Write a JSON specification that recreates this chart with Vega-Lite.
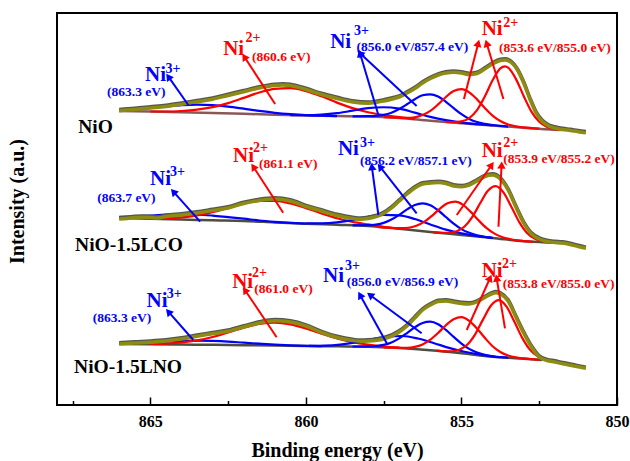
{
  "$schema": "https://vega.github.io/schema/vega-lite/v6.json",
  "width": 560,
  "height": 392,
  "autosize": "none",
  "padding": {"left": 57, "top": 13, "right": 13, "bottom": 56},
  "background": "white",
  "config": {
    "view": {"stroke": "black", "strokeWidth": 2},
    "axis": {"grid": false}
  },
  "datasets": {
    "curves": [
      {"s":"tbg","k":"bgA","E":866,"I":294.0},{"s":"tbg","k":"bgA","E":865,"I":293.4},{"s":"tbg","k":"bgA","E":864,"I":292.8},{"s":"tbg","k":"bgA","E":863,"I":292.1},{"s":"tbg","k":"bgA","E":862,"I":291.2},{"s":"tbg","k":"bgA","E":861,"I":290.3},{"s":"tbg","k":"bgA","E":860,"I":289.4},{"s":"tbg","k":"bgA","E":859,"I":288.9},{"s":"tbg","k":"bgA","E":858,"I":288.5},{"s":"tbg","k":"bgA","E":857,"I":287.0},{"s":"tbg","k":"bgA","E":856,"I":284.2},{"s":"tbg","k":"bgA","E":855,"I":281.8},{"s":"tbg","k":"bgA","E":854,"I":279.5},{"s":"tbg","k":"bgA","E":853,"I":277.3},{"s":"tbg","k":"bgA","E":852,"I":275.3},{"s":"tbg","k":"bgA","E":851.8,"I":275.0},
      {"s":"mbg","k":"bgB","E":866,"I":187},{"s":"mbg","k":"bgB","E":865,"I":186.2},{"s":"mbg","k":"bgB","E":864,"I":185.5},{"s":"mbg","k":"bgB","E":863,"I":184.7},{"s":"mbg","k":"bgB","E":862,"I":184.0},{"s":"mbg","k":"bgB","E":861,"I":182.6},{"s":"mbg","k":"bgB","E":860,"I":181.3},{"s":"mbg","k":"bgB","E":859,"I":180.2},{"s":"mbg","k":"bgB","E":858,"I":179.0},{"s":"mbg","k":"bgB","E":857,"I":176.2},{"s":"mbg","k":"bgB","E":856,"I":173.0},{"s":"mbg","k":"bgB","E":855,"I":170.0},{"s":"mbg","k":"bgB","E":854,"I":167.0},{"s":"mbg","k":"bgB","E":853,"I":163.7},{"s":"mbg","k":"bgB","E":852,"I":162.3},{"s":"mbg","k":"bgB","E":851.75,"I":162.0},
      {"s":"bbg","k":"bgB","E":866,"I":61},{"s":"bbg","k":"bgB","E":865,"I":60.75},{"s":"bbg","k":"bgB","E":864,"I":60.5},{"s":"bbg","k":"bgB","E":863,"I":60.15},{"s":"bbg","k":"bgB","E":862,"I":59.8},{"s":"bbg","k":"bgB","E":861,"I":59.4},{"s":"bbg","k":"bgB","E":860,"I":59.0},{"s":"bbg","k":"bgB","E":859,"I":58.65},{"s":"bbg","k":"bgB","E":858,"I":58.3},{"s":"bbg","k":"bgB","E":857,"I":57.0},{"s":"bbg","k":"bgB","E":856,"I":54.8},{"s":"bbg","k":"bgB","E":855,"I":51.8},{"s":"bbg","k":"bgB","E":854,"I":48.3},{"s":"bbg","k":"bgB","E":853,"I":46.3},{"s":"bbg","k":"bgB","E":852.4,"I":45.0},

      {"s":"tA","k":"Ni3+","E":866,"I":295.1},{"s":"tA","k":"Ni3+","E":865.5,"I":295.9},{"s":"tA","k":"Ni3+","E":865,"I":297.1},{"s":"tA","k":"Ni3+","E":864.5,"I":298.5},{"s":"tA","k":"Ni3+","E":864,"I":299.8},{"s":"tA","k":"Ni3+","E":863.5,"I":300.4},{"s":"tA","k":"Ni3+","E":863,"I":299.9},{"s":"tA","k":"Ni3+","E":862.5,"I":298.4},{"s":"tA","k":"Ni3+","E":862,"I":296.3},{"s":"tA","k":"Ni3+","E":861.5,"I":294.1},{"s":"tA","k":"Ni3+","E":861,"I":292.2},{"s":"tA","k":"Ni3+","E":860.5,"I":290.8},{"s":"tA","k":"Ni3+","E":860,"I":289.8},{"s":"tA","k":"Ni3+","E":859.5,"I":289.3},{"s":"tA","k":"Ni3+","E":859,"I":288.9},
      {"s":"tB","k":"Ni2+","E":865,"I":293.5},{"s":"tB","k":"Ni2+","E":864.5,"I":293.5},{"s":"tB","k":"Ni2+","E":864,"I":294.0},{"s":"tB","k":"Ni2+","E":863.5,"I":295.3},{"s":"tB","k":"Ni2+","E":863,"I":297.8},{"s":"tB","k":"Ni2+","E":862.5,"I":301.9},{"s":"tB","k":"Ni2+","E":862,"I":307.1},{"s":"tB","k":"Ni2+","E":861.5,"I":312.5},{"s":"tB","k":"Ni2+","E":861,"I":316.2},{"s":"tB","k":"Ni2+","E":860.5,"I":316.8},{"s":"tB","k":"Ni2+","E":860,"I":313.9},{"s":"tB","k":"Ni2+","E":859.5,"I":308.7},{"s":"tB","k":"Ni2+","E":859,"I":302.4},{"s":"tB","k":"Ni2+","E":858.5,"I":296.9},{"s":"tB","k":"Ni2+","E":858,"I":292.8},{"s":"tB","k":"Ni2+","E":857.5,"I":289.8},{"s":"tB","k":"Ni2+","E":857,"I":287.8},{"s":"tB","k":"Ni2+","E":856.5,"I":285.9},
      {"s":"tC","k":"Ni3+","E":860.5,"I":289.95},{"s":"tC","k":"Ni3+","E":860,"I":289.8},{"s":"tC","k":"Ni3+","E":859.5,"I":290.35},{"s":"tC","k":"Ni3+","E":859,"I":291.8},{"s":"tC","k":"Ni3+","E":858.5,"I":294.3},{"s":"tC","k":"Ni3+","E":858,"I":296.9},{"s":"tC","k":"Ni3+","E":857.5,"I":297.75},{"s":"tC","k":"Ni3+","E":857,"I":296.3},{"s":"tC","k":"Ni3+","E":856.5,"I":292.4},{"s":"tC","k":"Ni3+","E":856,"I":288.1},{"s":"tC","k":"Ni3+","E":855.5,"I":284.8},{"s":"tC","k":"Ni3+","E":855,"I":282.4},{"s":"tC","k":"Ni3+","E":854.5,"I":280.85},{"s":"tC","k":"Ni3+","E":854,"I":279.5},
      {"s":"tD","k":"Ni3+","E":858.5,"I":288.7},{"s":"tD","k":"Ni3+","E":858,"I":288.85},{"s":"tD","k":"Ni3+","E":857.75,"I":289.1},{"s":"tD","k":"Ni3+","E":857.5,"I":290.05},{"s":"tD","k":"Ni3+","E":857.25,"I":292.3},{"s":"tD","k":"Ni3+","E":857,"I":296.0},{"s":"tD","k":"Ni3+","E":856.75,"I":300.7},{"s":"tD","k":"Ni3+","E":856.5,"I":305.8},{"s":"tD","k":"Ni3+","E":856.25,"I":309.7},{"s":"tD","k":"Ni3+","E":856,"I":310.7},{"s":"tD","k":"Ni3+","E":855.75,"I":308.4},{"s":"tD","k":"Ni3+","E":855.5,"I":303.2},{"s":"tD","k":"Ni3+","E":855.25,"I":296.8},{"s":"tD","k":"Ni3+","E":855,"I":290.8},{"s":"tD","k":"Ni3+","E":854.75,"I":286.1},{"s":"tD","k":"Ni3+","E":854.5,"I":282.95},{"s":"tD","k":"Ni3+","E":854.25,"I":281.1},{"s":"tD","k":"Ni3+","E":854,"I":279.85},{"s":"tD","k":"Ni3+","E":853.5,"I":278.4},
      {"s":"tE","k":"Ni2+","E":857.5,"I":287.75},{"s":"tE","k":"Ni2+","E":857,"I":287.25},{"s":"tE","k":"Ni2+","E":856.75,"I":287.1},{"s":"tE","k":"Ni2+","E":856.5,"I":287.7},{"s":"tE","k":"Ni2+","E":856.25,"I":289.9},{"s":"tE","k":"Ni2+","E":856,"I":294.1},{"s":"tE","k":"Ni2+","E":855.75,"I":300.6},{"s":"tE","k":"Ni2+","E":855.5,"I":308.0},{"s":"tE","k":"Ni2+","E":855.25,"I":313.9},{"s":"tE","k":"Ni2+","E":855,"I":315.8},{"s":"tE","k":"Ni2+","E":854.75,"I":312.7},{"s":"tE","k":"Ni2+","E":854.5,"I":305.65},{"s":"tE","k":"Ni2+","E":854.25,"I":297.1},{"s":"tE","k":"Ni2+","E":854,"I":289.4},{"s":"tE","k":"Ni2+","E":853.75,"I":283.95},{"s":"tE","k":"Ni2+","E":853.5,"I":280.5},{"s":"tE","k":"Ni2+","E":853.25,"I":278.65},{"s":"tE","k":"Ni2+","E":853,"I":277.55},{"s":"tE","k":"Ni2+","E":852.5,"I":276.3},
      {"s":"tF","k":"Ni2+","E":855.5,"I":283.1},{"s":"tF","k":"Ni2+","E":855.25,"I":282.9},{"s":"tF","k":"Ni2+","E":855,"I":283.6},{"s":"tF","k":"Ni2+","E":854.75,"I":286.9},{"s":"tF","k":"Ni2+","E":854.5,"I":294.85},{"s":"tF","k":"Ni2+","E":854.25,"I":308.4},{"s":"tF","k":"Ni2+","E":854,"I":324.7},{"s":"tF","k":"Ni2+","E":853.75,"I":336.65},{"s":"tF","k":"Ni2+","E":853.6,"I":338.6},{"s":"tF","k":"Ni2+","E":853.5,"I":337.3},{"s":"tF","k":"Ni2+","E":853.25,"I":326.15},{"s":"tF","k":"Ni2+","E":853,"I":309.0},{"s":"tF","k":"Ni2+","E":852.75,"I":293.4},{"s":"tF","k":"Ni2+","E":852.5,"I":283.3},{"s":"tF","k":"Ni2+","E":852.25,"I":278.1},{"s":"tF","k":"Ni2+","E":852,"I":275.9},{"s":"tF","k":"Ni2+","E":851.8,"I":275.2},

      {"s":"mA","k":"Ni3+","E":866,"I":188.1},{"s":"mA","k":"Ni3+","E":865.5,"I":188.6},{"s":"mA","k":"Ni3+","E":865,"I":189.5},{"s":"mA","k":"Ni3+","E":864.5,"I":190.35},{"s":"mA","k":"Ni3+","E":864,"I":190.8},{"s":"mA","k":"Ni3+","E":863.5,"I":190.5},{"s":"mA","k":"Ni3+","E":863,"I":189.4},{"s":"mA","k":"Ni3+","E":862.5,"I":187.85},{"s":"mA","k":"Ni3+","E":862,"I":186.3},{"s":"mA","k":"Ni3+","E":861.5,"I":184.5},{"s":"mA","k":"Ni3+","E":861,"I":183.2},{"s":"mA","k":"Ni3+","E":860.5,"I":182.15},{"s":"mA","k":"Ni3+","E":860,"I":181.3},
      {"s":"mB","k":"Ni2+","E":865,"I":186.55},{"s":"mB","k":"Ni2+","E":864.5,"I":186.8},{"s":"mB","k":"Ni2+","E":864,"I":187.7},{"s":"mB","k":"Ni2+","E":863.5,"I":189.7},{"s":"mB","k":"Ni2+","E":863,"I":192.8},{"s":"mB","k":"Ni2+","E":862.5,"I":197.05},{"s":"mB","k":"Ni2+","E":862,"I":201.3},{"s":"mB","k":"Ni2+","E":861.5,"I":204.0},{"s":"mB","k":"Ni2+","E":861,"I":204.1},{"s":"mB","k":"Ni2+","E":860.5,"I":201.55},{"s":"mB","k":"Ni2+","E":860,"I":196.9},{"s":"mB","k":"Ni2+","E":859.5,"I":191.55},{"s":"mB","k":"Ni2+","E":859,"I":186.8},{"s":"mB","k":"Ni2+","E":858.5,"I":183.1},{"s":"mB","k":"Ni2+","E":858,"I":180.6},{"s":"mB","k":"Ni2+","E":857.5,"I":178.25},{"s":"mB","k":"Ni2+","E":857,"I":176.4},
      {"s":"mC","k":"Ni3+","E":860,"I":181.55},{"s":"mC","k":"Ni3+","E":859.5,"I":181.6},{"s":"mC","k":"Ni3+","E":859,"I":182.6},{"s":"mC","k":"Ni3+","E":858.5,"I":184.9},{"s":"mC","k":"Ni3+","E":858,"I":188.2},{"s":"mC","k":"Ni3+","E":857.5,"I":190.1},{"s":"mC","k":"Ni3+","E":857,"I":189.6},{"s":"mC","k":"Ni3+","E":856.5,"I":186.0},{"s":"mC","k":"Ni3+","E":856,"I":180.5},{"s":"mC","k":"Ni3+","E":855.5,"I":175.4},{"s":"mC","k":"Ni3+","E":855,"I":171.6},{"s":"mC","k":"Ni3+","E":854.5,"I":169.0},{"s":"mC","k":"Ni3+","E":854,"I":167.1},
      {"s":"mD","k":"Ni3+","E":858.5,"I":179.7},{"s":"mD","k":"Ni3+","E":858,"I":179.8},{"s":"mD","k":"Ni3+","E":857.75,"I":180.4},{"s":"mD","k":"Ni3+","E":857.5,"I":182.1},{"s":"mD","k":"Ni3+","E":857.25,"I":185.4},{"s":"mD","k":"Ni3+","E":857,"I":190.2},{"s":"mD","k":"Ni3+","E":856.75,"I":195.6},{"s":"mD","k":"Ni3+","E":856.5,"I":200.0},{"s":"mD","k":"Ni3+","E":856.25,"I":201.7},{"s":"mD","k":"Ni3+","E":856,"I":199.8},{"s":"mD","k":"Ni3+","E":855.75,"I":194.75},{"s":"mD","k":"Ni3+","E":855.5,"I":188.0},{"s":"mD","k":"Ni3+","E":855.25,"I":181.35},{"s":"mD","k":"Ni3+","E":855,"I":175.9},{"s":"mD","k":"Ni3+","E":854.75,"I":172.15},{"s":"mD","k":"Ni3+","E":854.5,"I":169.7},{"s":"mD","k":"Ni3+","E":854.25,"I":168.2},{"s":"mD","k":"Ni3+","E":854,"I":167.0},
      {"s":"mE","k":"Ni2+","E":857.7,"I":178.2},{"s":"mE","k":"Ni2+","E":857.2,"I":177.0},{"s":"mE","k":"Ni2+","E":856.95,"I":176.8},{"s":"mE","k":"Ni2+","E":856.7,"I":177.24},{"s":"mE","k":"Ni2+","E":856.45,"I":179.24},{"s":"mE","k":"Ni2+","E":856.2,"I":183.14},{"s":"mE","k":"Ni2+","E":855.95,"I":189.2},{"s":"mE","k":"Ni2+","E":855.7,"I":196.1},{"s":"mE","k":"Ni2+","E":855.45,"I":201.65},{"s":"mE","k":"Ni2+","E":855.2,"I":203.3},{"s":"mE","k":"Ni2+","E":854.95,"I":200.15},{"s":"mE","k":"Ni2+","E":854.7,"I":193.1},{"s":"mE","k":"Ni2+","E":854.45,"I":184.7},{"s":"mE","k":"Ni2+","E":854.2,"I":177.1},{"s":"mE","k":"Ni2+","E":853.95,"I":171.64},{"s":"mE","k":"Ni2+","E":853.7,"I":168.0},{"s":"mE","k":"Ni2+","E":853.45,"I":165.95},{"s":"mE","k":"Ni2+","E":853.2,"I":164.6},{"s":"mE","k":"Ni2+","E":852.7,"I":163.2},
      {"s":"mF","k":"Ni2+","E":855.9,"I":172.7},{"s":"mF","k":"Ni2+","E":855.65,"I":172.2},{"s":"mF","k":"Ni2+","E":855.4,"I":172.2},{"s":"mF","k":"Ni2+","E":855.15,"I":173.75},{"s":"mF","k":"Ni2+","E":854.9,"I":178.5},{"s":"mF","k":"Ni2+","E":854.65,"I":188.15},{"s":"mF","k":"Ni2+","E":854.4,"I":201.7},{"s":"mF","k":"Ni2+","E":854.15,"I":214.25},{"s":"mF","k":"Ni2+","E":853.9,"I":218.97},{"s":"mF","k":"Ni2+","E":853.65,"I":212.65},{"s":"mF","k":"Ni2+","E":853.4,"I":198.5},{"s":"mF","k":"Ni2+","E":853.15,"I":183.4},{"s":"mF","k":"Ni2+","E":852.9,"I":172.36},{"s":"mF","k":"Ni2+","E":852.65,"I":166.5},{"s":"mF","k":"Ni2+","E":852.4,"I":163.8},{"s":"mF","k":"Ni2+","E":852.15,"I":162.7},{"s":"mF","k":"Ni2+","E":851.9,"I":162.2},

      {"s":"bA","k":"Ni3+","E":866,"I":61.6},{"s":"bA","k":"Ni3+","E":865.5,"I":62.0},{"s":"bA","k":"Ni3+","E":865,"I":62.55},{"s":"bA","k":"Ni3+","E":864.5,"I":63.3},{"s":"bA","k":"Ni3+","E":864,"I":64.0},{"s":"bA","k":"Ni3+","E":863.5,"I":64.3},{"s":"bA","k":"Ni3+","E":863,"I":64.05},{"s":"bA","k":"Ni3+","E":862.5,"I":63.4},{"s":"bA","k":"Ni3+","E":862,"I":62.3},{"s":"bA","k":"Ni3+","E":861.5,"I":61.3},{"s":"bA","k":"Ni3+","E":861,"I":60.4},{"s":"bA","k":"Ni3+","E":860.5,"I":59.7},{"s":"bA","k":"Ni3+","E":860,"I":59.2},{"s":"bA","k":"Ni3+","E":859.5,"I":58.8},
      {"s":"bB","k":"Ni2+","E":865,"I":61.05},{"s":"bB","k":"Ni2+","E":864.5,"I":61.44},{"s":"bB","k":"Ni2+","E":864,"I":62.5},{"s":"bB","k":"Ni2+","E":863.5,"I":64.55},{"s":"bB","k":"Ni2+","E":863,"I":67.95},{"s":"bB","k":"Ni2+","E":862.5,"I":72.5},{"s":"bB","k":"Ni2+","E":862,"I":77.35},{"s":"bB","k":"Ni2+","E":861.5,"I":81.1},{"s":"bB","k":"Ni2+","E":861,"I":82.4},{"s":"bB","k":"Ni2+","E":860.5,"I":80.7},{"s":"bB","k":"Ni2+","E":860,"I":76.55},{"s":"bB","k":"Ni2+","E":859.5,"I":71.3},{"s":"bB","k":"Ni2+","E":859,"I":66.45},{"s":"bB","k":"Ni2+","E":858.5,"I":62.75},{"s":"bB","k":"Ni2+","E":858,"I":60.3},{"s":"bB","k":"Ni2+","E":857.5,"I":58.5},{"s":"bB","k":"Ni2+","E":857,"I":57.3},
      {"s":"bC","k":"Ni3+","E":859.9,"I":59.12},{"s":"bC","k":"Ni3+","E":859.4,"I":59.37},{"s":"bC","k":"Ni3+","E":858.9,"I":60.42},{"s":"bC","k":"Ni3+","E":858.4,"I":62.56},{"s":"bC","k":"Ni3+","E":857.9,"I":65.72},{"s":"bC","k":"Ni3+","E":857.4,"I":68.32},{"s":"bC","k":"Ni3+","E":856.9,"I":68.98},{"s":"bC","k":"Ni3+","E":856.4,"I":66.48},{"s":"bC","k":"Ni3+","E":855.9,"I":62.05},{"s":"bC","k":"Ni3+","E":855.4,"I":57.1},{"s":"bC","k":"Ni3+","E":854.9,"I":53.25},{"s":"bC","k":"Ni3+","E":854.4,"I":50.3},{"s":"bC","k":"Ni3+","E":853.9,"I":48.26},
      {"s":"bD","k":"Ni3+","E":858.5,"I":58.5},{"s":"bD","k":"Ni3+","E":858,"I":58.67},{"s":"bD","k":"Ni3+","E":857.75,"I":59.02},{"s":"bD","k":"Ni3+","E":857.5,"I":60.15},{"s":"bD","k":"Ni3+","E":857.25,"I":62.6},{"s":"bD","k":"Ni3+","E":857,"I":66.66},{"s":"bD","k":"Ni3+","E":856.75,"I":71.95},{"s":"bD","k":"Ni3+","E":856.5,"I":77.65},{"s":"bD","k":"Ni3+","E":856.25,"I":82.0},{"s":"bD","k":"Ni3+","E":856,"I":83.3},{"s":"bD","k":"Ni3+","E":855.75,"I":80.7},{"s":"bD","k":"Ni3+","E":855.5,"I":75.05},{"s":"bD","k":"Ni3+","E":855.25,"I":68.05},{"s":"bD","k":"Ni3+","E":855,"I":61.46},{"s":"bD","k":"Ni3+","E":854.75,"I":56.17},{"s":"bD","k":"Ni3+","E":854.5,"I":52.55},{"s":"bD","k":"Ni3+","E":854.25,"I":50.24},{"s":"bD","k":"Ni3+","E":854,"I":48.67},{"s":"bD","k":"Ni3+","E":853.5,"I":47.3},
      {"s":"bE","k":"Ni2+","E":857.5,"I":57.65},{"s":"bE","k":"Ni2+","E":857,"I":57.26},{"s":"bE","k":"Ni2+","E":856.75,"I":57.27},{"s":"bE","k":"Ni2+","E":856.5,"I":58.15},{"s":"bE","k":"Ni2+","E":856.25,"I":60.61},{"s":"bE","k":"Ni2+","E":856,"I":65.3},{"s":"bE","k":"Ni2+","E":855.75,"I":72.05},{"s":"bE","k":"Ni2+","E":855.5,"I":79.8},{"s":"bE","k":"Ni2+","E":855.25,"I":85.85},{"s":"bE","k":"Ni2+","E":855,"I":87.8},{"s":"bE","k":"Ni2+","E":854.75,"I":84.2},{"s":"bE","k":"Ni2+","E":854.5,"I":76.55},{"s":"bE","k":"Ni2+","E":854.25,"I":67.2},{"s":"bE","k":"Ni2+","E":854,"I":58.8},{"s":"bE","k":"Ni2+","E":853.75,"I":53.06},{"s":"bE","k":"Ni2+","E":853.5,"I":49.55},{"s":"bE","k":"Ni2+","E":853.25,"I":47.62},{"s":"bE","k":"Ni2+","E":853,"I":46.56},{"s":"bE","k":"Ni2+","E":852.5,"I":45.1},
      {"s":"bF","k":"Ni2+","E":855.8,"I":54.35},{"s":"bF","k":"Ni2+","E":855.55,"I":53.7},{"s":"bF","k":"Ni2+","E":855.3,"I":53.75},{"s":"bF","k":"Ni2+","E":855.05,"I":55.5},{"s":"bF","k":"Ni2+","E":854.8,"I":60.7},{"s":"bF","k":"Ni2+","E":854.55,"I":71.2},{"s":"bF","k":"Ni2+","E":854.3,"I":85.85},{"s":"bF","k":"Ni2+","E":854.05,"I":99.5},{"s":"bF","k":"Ni2+","E":853.8,"I":104.9},{"s":"bF","k":"Ni2+","E":853.55,"I":98.4},{"s":"bF","k":"Ni2+","E":853.3,"I":83.4},{"s":"bF","k":"Ni2+","E":853.05,"I":67.4},{"s":"bF","k":"Ni2+","E":852.8,"I":55.4},{"s":"bF","k":"Ni2+","E":852.55,"I":48.75},{"s":"bF","k":"Ni2+","E":852.3,"I":45.75},

      {"s":"tenv","k":"env","E":866,"I":294.3},{"s":"tenv","k":"env","E":865.5,"I":295.5},{"s":"tenv","k":"env","E":865,"I":297.0},{"s":"tenv","k":"env","E":864.5,"I":298.5},{"s":"tenv","k":"env","E":864,"I":300.8},{"s":"tenv","k":"env","E":863.5,"I":303.3},{"s":"tenv","k":"env","E":863,"I":305.8},{"s":"tenv","k":"env","E":862.5,"I":309.5},{"s":"tenv","k":"env","E":862,"I":313.3},{"s":"tenv","k":"env","E":861.5,"I":317.0},{"s":"tenv","k":"env","E":861,"I":319.5},{"s":"tenv","k":"env","E":860.75,"I":320.0},{"s":"tenv","k":"env","E":860.5,"I":319.5},{"s":"tenv","k":"env","E":860,"I":315.5},{"s":"tenv","k":"env","E":859.5,"I":310.5},{"s":"tenv","k":"env","E":859,"I":306.5},{"s":"tenv","k":"env","E":858.5,"I":303.0},{"s":"tenv","k":"env","E":858,"I":301.7},{"s":"tenv","k":"env","E":857.75,"I":302.5},{"s":"tenv","k":"env","E":857.5,"I":304.0},{"s":"tenv","k":"env","E":857.25,"I":305.8},{"s":"tenv","k":"env","E":857,"I":308.0},{"s":"tenv","k":"env","E":856.75,"I":312.0},{"s":"tenv","k":"env","E":856.5,"I":316.5},{"s":"tenv","k":"env","E":856.25,"I":322.0},{"s":"tenv","k":"env","E":856,"I":326.5},{"s":"tenv","k":"env","E":855.75,"I":330.0},{"s":"tenv","k":"env","E":855.5,"I":332.0},{"s":"tenv","k":"env","E":855.25,"I":332.7},{"s":"tenv","k":"env","E":855,"I":332.0},{"s":"tenv","k":"env","E":854.75,"I":330.5},{"s":"tenv","k":"env","E":854.5,"I":331.5},{"s":"tenv","k":"env","E":854.25,"I":336.0},{"s":"tenv","k":"env","E":854,"I":341.0},{"s":"tenv","k":"env","E":853.75,"I":344.5},{"s":"tenv","k":"env","E":853.6,"I":345.0},{"s":"tenv","k":"env","E":853.4,"I":342.5},{"s":"tenv","k":"env","E":853.2,"I":335.0},{"s":"tenv","k":"env","E":853,"I":322.0},{"s":"tenv","k":"env","E":852.8,"I":306.0},{"s":"tenv","k":"env","E":852.6,"I":292.0},{"s":"tenv","k":"env","E":852.4,"I":283.5},{"s":"tenv","k":"env","E":852.2,"I":279.0},{"s":"tenv","k":"env","E":852,"I":277.0},{"s":"tenv","k":"env","E":851.75,"I":275.5},{"s":"tenv","k":"env","E":851.5,"I":274.5},{"s":"tenv","k":"env","E":851.25,"I":273.3},{"s":"tenv","k":"env","E":851,"I":272.3},
      {"s":"menv","k":"env","E":866,"I":186.0},{"s":"menv","k":"env","E":865.75,"I":186.5},{"s":"menv","k":"env","E":865.5,"I":187.5},{"s":"menv","k":"env","E":865.25,"I":187.7},{"s":"menv","k":"env","E":865,"I":187.5},{"s":"menv","k":"env","E":864.75,"I":187.0},{"s":"menv","k":"env","E":864.5,"I":188.5},{"s":"menv","k":"env","E":864,"I":190.0},{"s":"menv","k":"env","E":863.5,"I":192.0},{"s":"menv","k":"env","E":863,"I":194.5},{"s":"menv","k":"env","E":862.5,"I":197.0},{"s":"menv","k":"env","E":862,"I":201.5},{"s":"menv","k":"env","E":861.5,"I":204.5},{"s":"menv","k":"env","E":861,"I":206.0},{"s":"menv","k":"env","E":860.5,"I":204.0},{"s":"menv","k":"env","E":860,"I":198.5},{"s":"menv","k":"env","E":859.5,"I":194.0},{"s":"menv","k":"env","E":859,"I":189.5},{"s":"menv","k":"env","E":858.5,"I":186.5},{"s":"menv","k":"env","E":858.25,"I":185.7},{"s":"menv","k":"env","E":858,"I":186.5},{"s":"menv","k":"env","E":857.5,"I":191.5},{"s":"menv","k":"env","E":857.25,"I":197.0},{"s":"menv","k":"env","E":857,"I":204.0},{"s":"menv","k":"env","E":856.75,"I":211.0},{"s":"menv","k":"env","E":856.5,"I":217.0},{"s":"menv","k":"env","E":856.25,"I":221.0},{"s":"menv","k":"env","E":856,"I":222.0},{"s":"menv","k":"env","E":855.75,"I":222.5},{"s":"menv","k":"env","E":855.5,"I":221.5},{"s":"menv","k":"env","E":855.25,"I":219.0},{"s":"menv","k":"env","E":855,"I":218.3},{"s":"menv","k":"env","E":854.75,"I":220.0},{"s":"menv","k":"env","E":854.5,"I":224.0},{"s":"menv","k":"env","E":854.25,"I":228.5},{"s":"menv","k":"env","E":854,"I":230.0},{"s":"menv","k":"env","E":853.75,"I":226.0},{"s":"menv","k":"env","E":853.5,"I":215.0},{"s":"menv","k":"env","E":853.25,"I":198.0},{"s":"menv","k":"env","E":853,"I":182.0},{"s":"menv","k":"env","E":852.75,"I":171.0},{"s":"menv","k":"env","E":852.5,"I":166.0},{"s":"menv","k":"env","E":852.25,"I":163.5},{"s":"menv","k":"env","E":852,"I":162.5},{"s":"menv","k":"env","E":851.75,"I":162.0},{"s":"menv","k":"env","E":851.5,"I":160.5},{"s":"menv","k":"env","E":851.25,"I":158.5},{"s":"menv","k":"env","E":851,"I":156.7},
      {"s":"benv","k":"env","E":866,"I":61.0},{"s":"benv","k":"env","E":865.5,"I":62.0},{"s":"benv","k":"env","E":865,"I":62.8},{"s":"benv","k":"env","E":864.5,"I":64.0},{"s":"benv","k":"env","E":864,"I":66.0},{"s":"benv","k":"env","E":863.5,"I":68.8},{"s":"benv","k":"env","E":863,"I":71.3},{"s":"benv","k":"env","E":862.5,"I":73.8},{"s":"benv","k":"env","E":862,"I":78.0},{"s":"benv","k":"env","E":861.5,"I":82.0},{"s":"benv","k":"env","E":861,"I":84.2},{"s":"benv","k":"env","E":860.5,"I":83.0},{"s":"benv","k":"env","E":860,"I":79.0},{"s":"benv","k":"env","E":859.5,"I":72.5},{"s":"benv","k":"env","E":859,"I":67.5},{"s":"benv","k":"env","E":858.5,"I":64.5},{"s":"benv","k":"env","E":858.25,"I":63.8},{"s":"benv","k":"env","E":858,"I":64.0},{"s":"benv","k":"env","E":857.5,"I":66.0},{"s":"benv","k":"env","E":857,"I":73.0},{"s":"benv","k":"env","E":856.75,"I":79.0},{"s":"benv","k":"env","E":856.5,"I":87.0},{"s":"benv","k":"env","E":856.25,"I":95.0},{"s":"benv","k":"env","E":856,"I":100.0},{"s":"benv","k":"env","E":855.75,"I":103.5},{"s":"benv","k":"env","E":855.5,"I":104.0},{"s":"benv","k":"env","E":855.25,"I":102.8},{"s":"benv","k":"env","E":855,"I":101.5},{"s":"benv","k":"env","E":854.75,"I":101.0},{"s":"benv","k":"env","E":854.5,"I":103.0},{"s":"benv","k":"env","E":854.25,"I":107.5},{"s":"benv","k":"env","E":854,"I":111.5},{"s":"benv","k":"env","E":853.9,"I":112.3},{"s":"benv","k":"env","E":853.75,"I":111.0},{"s":"benv","k":"env","E":853.5,"I":104.0},{"s":"benv","k":"env","E":853.25,"I":88.0},{"s":"benv","k":"env","E":853,"I":72.0},{"s":"benv","k":"env","E":852.75,"I":58.0},{"s":"benv","k":"env","E":852.5,"I":48.0},{"s":"benv","k":"env","E":852.25,"I":44.5},{"s":"benv","k":"env","E":852,"I":43.0},{"s":"benv","k":"env","E":851.75,"I":41.3},{"s":"benv","k":"env","E":851.5,"I":39.8},{"s":"benv","k":"env","E":851.25,"I":38.2},{"s":"benv","k":"env","E":851,"I":36.7}
    ],
    "labels": [
      {"t":"Ni","r":"ni","c":"Ni3+","E":865.17,"I":324.5},
      {"t":"3+","r":"sup","c":"Ni3+","E":864.51,"I":332.5},
      {"t":"(863.3 eV)","r":"ev","c":"Ni3+","E":866.39,"I":309},
      {"t":"Ni","r":"ni","c":"Ni2+","E":862.66,"I":350},
      {"t":"2+","r":"sup","c":"Ni2+","E":861.94,"I":363},
      {"t":"(860.6 eV)","r":"ev","c":"Ni2+","E":861.73,"I":344},
      {"t":"Ni","r":"ni","c":"Ni3+","E":859.22,"I":356.7},
      {"t":"3+","r":"sup","c":"Ni3+","E":858.45,"I":370},
      {"t":"(856.0 eV/857.4 eV)","r":"ev","c":"Ni3+","E":858.37,"I":354.5},
      {"t":"Ni","r":"ni","c":"Ni2+","E":854.35,"I":370},
      {"t":"2+","r":"sup","c":"Ni2+","E":853.66,"I":378},
      {"t":"(853.6 eV/855.0 eV)","r":"ev","c":"Ni2+","E":853.79,"I":353},
      {"t":"Ni","r":"ni","c":"Ni3+","E":865.01,"I":220},
      {"t":"3+","r":"sup","c":"Ni3+","E":864.37,"I":229},
      {"t":"(863.7 eV)","r":"ev","c":"Ni3+","E":866.71,"I":203},
      {"t":"Ni","r":"ni","c":"Ni2+","E":862.34,"I":243.3},
      {"t":"2+","r":"sup","c":"Ni2+","E":861.7,"I":253.5},
      {"t":"(861.1 eV)","r":"ev","c":"Ni2+","E":861.51,"I":237},
      {"t":"Ni","r":"ni","c":"Ni3+","E":858.97,"I":250},
      {"t":"3+","r":"sup","c":"Ni3+","E":858.26,"I":258.5},
      {"t":"(856.2 eV/857.1 eV)","r":"ev","c":"Ni3+","E":858.26,"I":240},
      {"t":"Ni","r":"ni","c":"Ni2+","E":854.35,"I":248.5},
      {"t":"2+","r":"sup","c":"Ni2+","E":853.66,"I":258},
      {"t":"(853.9 eV/855.2 eV)","r":"ev","c":"Ni2+","E":853.66,"I":242},
      {"t":"Ni","r":"ni","c":"Ni3+","E":865.12,"I":98.5},
      {"t":"3+","r":"sup","c":"Ni3+","E":864.47,"I":107},
      {"t":"(863.3 eV)","r":"ev","c":"Ni3+","E":866.85,"I":83},
      {"t":"Ni","r":"ni","c":"Ni2+","E":862.37,"I":117.5},
      {"t":"2+","r":"sup","c":"Ni2+","E":861.73,"I":128},
      {"t":"(861.0 eV)","r":"ev","c":"Ni2+","E":861.66,"I":112},
      {"t":"Ni","r":"ni","c":"Ni3+","E":859.45,"I":123.5},
      {"t":"3+","r":"sup","c":"Ni3+","E":858.74,"I":135},
      {"t":"(856.0 eV/856.9 eV)","r":"ev","c":"Ni3+","E":858.69,"I":119},
      {"t":"Ni","r":"ni","c":"Ni2+","E":854.35,"I":128.3},
      {"t":"2+","r":"sup","c":"Ni2+","E":853.7,"I":137},
      {"t":"(853.8 eV/855.0 eV)","r":"ev","c":"Ni2+","E":853.67,"I":117},
      {"t":"NiO","r":"panel","c":"panel","E":867.32,"I":272},
      {"t":"NiO-1.5LCO","r":"panel","c":"panel","E":867.42,"I":154},
      {"t":"NiO-1.5LNO","r":"panel","c":"panel","E":867.45,"I":32.5}
    ],
    "arrows": [
      {"c":"Ni3+","E":864.42,"I":328.3,"E2":863.78,"I2":300,"a":-35},
      {"c":"Ni2+","E":861.98,"I":348.3,"E2":860.99,"I2":301,"a":-33},
      {"c":"Ni3+","E":858.26,"I":351.7,"E2":857.67,"I2":290,"a":-16.5},
      {"c":"Ni3+","E":858.26,"I":351.7,"E2":856.44,"I2":299,"a":-47},
      {"c":"Ni2+","E":854.46,"I":361.7,"E2":854.92,"I2":306,"a":14.4},
      {"c":"Ni2+","E":854.19,"I":361.7,"E2":853.65,"I2":306,"a":-16.6},
      {"c":"Ni3+","E":864.26,"I":213.3,"E2":863.4,"I2":183.3,"a":-41.7},
      {"c":"Ni2+","E":861.69,"I":238.3,"E2":860.73,"I2":192.3,"a":-33},
      {"c":"Ni3+","E":857.88,"I":238.3,"E2":857.67,"I2":190,"a":-7.8},
      {"c":"Ni3+","E":857.62,"I":238.3,"E2":856.44,"I2":191.7,"a":-38.2},
      {"c":"Ni2+","E":854.03,"I":240,"E2":855.15,"I2":190,"a":35},
      {"c":"Ni2+","E":853.71,"I":240,"E2":853.81,"I2":178.3,"a":3.2},
      {"c":"Ni3+","E":864.42,"I":93.3,"E2":863.62,"I2":65,"a":-41.5},
      {"c":"Ni2+","E":861.96,"I":115,"E2":860.94,"I2":67.7,"a":-33.8},
      {"c":"Ni3+","E":858.26,"I":110,"E2":857.4,"I2":61.7,"a":-28.9},
      {"c":"Ni3+","E":857.94,"I":110,"E2":856.28,"I2":71.7,"a":-53.5},
      {"c":"Ni2+","E":854.08,"I":127,"E2":854.83,"I2":75,"a":24.1},
      {"c":"Ni2+","E":853.87,"I":127,"E2":853.6,"I2":76.7,"a":-9.4}
    ]
  },
  "encoding": {
    "x": {
      "field": "E", "type": "quantitative",
      "scale": {"domain": [850, 868], "reverse": true, "nice": false, "zero": false},
      "axis": {
        "values": [867.5, 865, 862.5, 860, 857.5, 855, 852.5, 850],
        "labelExpr": "datum.value % 5 === 0 ? datum.label : ''",
        "domain": false,
        "tickColor": "black", "tickWidth": 1.5,
        "tickSize": {"condition": {"test": "datum.value % 5 === 0", "value": -8}, "value": -4.5},
        "labelFont": "Liberation Serif", "labelFontWeight": "bold", "labelFontSize": 16, "labelColor": "black",
        "labelBaseline": "alphabetic", "labelPadding": 29.5, "labelFlush": false, "labelOverlap": false,
        "title": "Binding energy (eV)",
        "titleFont": "Liberation Serif", "titleFontWeight": "bold", "titleFontSize": 20, "titleColor": "black",
        "titleBaseline": "alphabetic", "titleY": 51
      }
    },
    "y": {
      "field": "I", "type": "quantitative",
      "scale": {"domain": [0, 392], "nice": false, "zero": false},
      "axis": {
        "labels": false, "ticks": false, "domain": false,
        "title": "Intensity (a.u.)",
        "titleFont": "Liberation Serif", "titleFontWeight": "bold", "titleFontSize": 20, "titleColor": "black",
        "titleBaseline": "alphabetic", "titleAngle": -90, "titleX": -34, "titleY": 188, "titleAlign": "center"
      }
    }
  },
  "layer": [
    {
      "data": {"name": "curves"},
      "transform": [{"filter": "datum.k === 'bgA' || datum.k === 'bgB'"}],
      "mark": {"type": "line", "strokeWidth": 2.5, "interpolate": "monotone"},
      "encoding": {
        "color": {"field": "k", "type": "nominal", "legend": null,
          "scale": {"domain": ["bgA", "bgB", "Ni2+", "Ni3+", "panel"], "range": ["#8a5858", "#4e4e40", "#ff0000", "#0000ff", "#000000"]}},
        "detail": {"field": "s"}
      }
    },
    {
      "data": {"name": "curves"},
      "transform": [{"filter": "datum.k === 'Ni2+' || datum.k === 'Ni3+'"}],
      "mark": {"type": "line", "strokeWidth": 2.2, "interpolate": "monotone"},
      "encoding": {
        "color": {"field": "k", "type": "nominal", "legend": null},
        "detail": {"field": "s"}
      }
    },
    {
      "data": {"name": "curves"},
      "transform": [{"filter": "datum.k === 'env'"}],
      "mark": {"type": "line", "strokeWidth": 3.5, "interpolate": "monotone", "color": "#555550", "yOffset": -1.2},
      "encoding": {"detail": {"field": "s"}}
    },
    {
      "data": {"name": "curves"},
      "transform": [{"filter": "datum.k === 'env'"}],
      "mark": {"type": "line", "strokeWidth": 3.5, "interpolate": "monotone", "color": "#8c8c12"},
      "encoding": {"detail": {"field": "s"}}
    },
    {
      "data": {"name": "arrows"},
      "mark": {"type": "rule", "strokeWidth": 2},
      "encoding": {
        "x2": {"field": "E2"},
        "y2": {"field": "I2"},
        "color": {"field": "c", "type": "nominal", "legend": null}
      }
    },
    {
      "data": {"name": "arrows"},
      "mark": {"type": "point", "shape": "triangle-up", "filled": true, "size": 70, "opacity": 1},
      "encoding": {
        "angle": {"field": "a", "type": "quantitative", "scale": null},
        "color": {"field": "c", "type": "nominal", "legend": null}
      }
    },
    {
      "data": {"name": "labels"},
      "transform": [{"filter": "datum.r === 'ni'"}],
      "mark": {"type": "text", "font": "Liberation Serif", "fontWeight": "bold", "fontSize": 21, "align": "left", "baseline": "alphabetic"},
      "encoding": {"text": {"field": "t"}, "color": {"field": "c", "type": "nominal", "legend": null}}
    },
    {
      "data": {"name": "labels"},
      "transform": [{"filter": "datum.r === 'sup'"}],
      "mark": {"type": "text", "font": "Liberation Serif", "fontWeight": "bold", "fontSize": 14, "align": "left", "baseline": "alphabetic"},
      "encoding": {"text": {"field": "t"}, "color": {"field": "c", "type": "nominal", "legend": null}}
    },
    {
      "data": {"name": "labels"},
      "transform": [{"filter": "datum.r === 'ev'"}],
      "mark": {"type": "text", "font": "Liberation Serif", "fontWeight": "bold", "fontSize": 13.5, "align": "left", "baseline": "alphabetic"},
      "encoding": {"text": {"field": "t"}, "color": {"field": "c", "type": "nominal", "legend": null}}
    },
    {
      "data": {"name": "labels"},
      "transform": [{"filter": "datum.r === 'panel'"}],
      "mark": {"type": "text", "font": "Liberation Serif", "fontWeight": "bold", "fontSize": 19.5, "align": "left", "baseline": "alphabetic"},
      "encoding": {"text": {"field": "t"}, "color": {"field": "c", "type": "nominal", "legend": null}}
    }
  ]
}
